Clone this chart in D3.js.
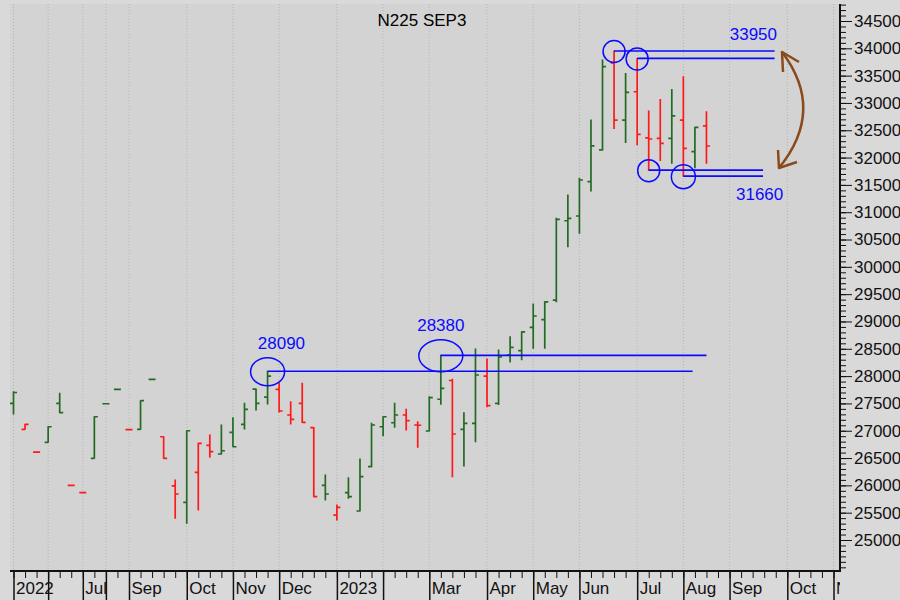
<!DOCTYPE html>
<html>
<head>
<meta charset="utf-8">
<script src="https://cdn.jsdelivr.net/npm/d3@7"></script>
<style>
  body { margin: 0; background: #d9d9d9; }
  svg { display: block; }
  text { font-family: "Liberation Sans", Arial, sans-serif; }
</style>
</head>
<body>
<svg id="chart" width="900" height="600"></svg>
<script>
// weekly bars, one per trading week (index = bar number)
var opens  = [27500, 27025, 26610, 26788, 27502, 26001, 25866, 26495, 27494, 27758,
              27019, 27026, 27941, 26890, 25990, 25690, 26239, 26733, 26574, 26971,
              27117, 27763, 27615, 27758, 27288, 27502, 27058, 26001, 25457, 25866,
              25531, 26342, 27073, 27146, 27288, 27105, 26995, 27576, 27920, 27026,
              27136, 28001, 27502, 28386, 28465, 28893, 29035, 29392, 30844, 30931,
              31560, 32140, 33735, 32686, 33205, 32360, 32351, 32351, 32686, 32108,
              32582];
var highs  = [27715, 27120, 26610, 27073, 27685, 26001, 25866, 27256, 27494, 27758,
              27019, 27550, 27941, 26890, 26098, 27000, 26770, 26922, 27105, 27238,
              27502, 27763, 28090, 27868, 27531, 27868, 27058, 26190, 25640, 26140,
              26482, 27135, 27256, 27502, 27392, 27165, 27622, 28380, 27941, 27330,
              28496, 28312, 28478, 28722, 28810, 29320, 29360, 30888, 31316, 31621,
              32686, 33784, 33950, 33540, 33815, 32851, 33065, 33248, 33478, 32553,
              32839];
var lows   = [27305, 27025, 26610, 26788, 27330, 26001, 25866, 26495, 27494, 27758,
              27019, 27026, 27941, 26495, 25397, 25305, 25549, 26513, 26574, 26707,
              27031, 27379, 27489, 27342, 27123, 27153, 25793, 25732, 25366, 25763,
              25531, 26342, 26908, 27062, 27013, 26696, 26995, 27483, 26159, 26354,
              26799, 27440, 27480, 28257, 28300, 28508, 28508, 29360, 30370, 30614,
              31387, 32140, 32534, 32275, 32235, 31770, 31946, 31897, 31660, 31813,
              31897];
var closes = [27700, 27115, 26610, 27073, 27330, 26001, 25866, 27256, 27494, 27758,
              27019, 27550, 27941, 26495, 25842, 27000, 26770, 26616, 26634, 26707,
              27392, 27502, 28001, 27361, 27209, 27153, 25793, 25842, 25598, 25793,
              26159, 27105, 27256, 27288, 27184, 27100, 27606, 27777, 26940, 27136,
              28020, 27458, 28350, 28527, 28810, 29100, 29358, 30869, 30888, 31590,
              32213, 33665, 32686, 33193, 32424, 32340, 32260, 32765, 32168, 32553,
              32212];

// month ticks on the bar axis
var monthTicks  = [0, 3, 6, 8, 10, 15, 19, 23, 28, 32, 36, 41, 45, 49, 54, 58, 62, 67, 71];
var monthLabels = ["2022", "", "Jul", "", "Sep", "Oct", "Nov", "Dec", "2023", "", "Mar",
                   "Apr", "May", "Jun", "Jul", "Aug", "Sep", "Oct", "Nov"];

// price ticks
var priceTicks = d3.range(25000, 34501, 500);
var priceMinor = d3.range(24500, 34801, 100);

// marked highs / lows: bar index, level, end of line (bar units), label
var marks = [
  { i: 22, level: 28090, end: 58.8, rx: 17, ry: 14, label: "28090", shift: 1.2 },
  { i: 37, level: 28380, end: 60,   rx: 22, ry: 16, label: "28380", shift: 0 },
  { i: 52, level: 33950, end: 65.9, rx: 11, ry: 11, label: "" },
  { i: 54, level: 33815, end: 65.9, rx: 11, ry: 11, label: "" },
  { i: 55, level: 31770, end: 64.9, rx: 11, ry: 11, label: "" },
  { i: 58, level: 31660, end: 64.9, rx: 12, ry: 12, label: "" }
];

var PLOT_LEFT = 10, PLOT_RIGHT = 840, PLOT_TOP = 4, PLOT_BOTTOM = 571;
var GREEN = "#236b23", RED = "#ff1a1a", BLUE = "#0a0aff", BROWN = "#8b4a1c";

var svg = d3.select("#chart");

var x = d3.scaleLinear().domain([0, 71]).range([13.5, 833.5]);
var y = d3.scaleLinear().domain([25000, 34500]).range([540, 21]);

svg.append("rect")
  .attr("x", PLOT_LEFT).attr("y", PLOT_TOP)
  .attr("width", PLOT_RIGHT - PLOT_LEFT).attr("height", PLOT_BOTTOM - PLOT_TOP)
  .attr("fill", "#d3d3d3");

svg.append("clipPath").attr("id", "plotclip")
  .append("rect")
  .attr("x", 0).attr("y", 0)
  .attr("width", PLOT_RIGHT).attr("height", 600);

// dotted month grid
svg.append("g").selectAll("line")
  .data(monthTicks)
  .enter().append("line")
    .attr("x1", function(d) { return x(d); })
    .attr("x2", function(d) { return x(d); })
    .attr("y1", PLOT_TOP).attr("y2", PLOT_BOTTOM)
    .attr("stroke", "#b5b5b5")
    .attr("stroke-dasharray", "1,2");

// title
svg.append("text")
  .attr("x", 422).attr("y", 26)
  .attr("text-anchor", "middle")
  .attr("font-size", 17)
  .attr("fill", "#000")
  .text("N225 SEP3");

// bars
var barData = opens.map(function(o, i) {
  var prev = i > 0 ? closes[i - 1] : -Infinity;
  return { i: i, o: o, h: highs[i], l: lows[i], c: closes[i], up: closes[i] >= prev };
});

svg.append("g").selectAll("path")
  .data(barData)
  .enter().append("path")
    .attr("d", function(d) {
      var bx = x(d.i);
      return "M" + bx + "," + (y(d.h) - 0.5) + "V" + (y(d.l) + 0.5) +
             "M" + (bx - 3.5) + "," + y(d.o) + "H" + bx +
             "M" + bx + "," + y(d.c) + "H" + (bx + 3.5);
    })
    .attr("fill", "none")
    .attr("stroke", function(d) { return d.up ? GREEN : RED; })
    .attr("stroke-width", 1.7);

// level lines and circles
var ann = svg.append("g");

ann.selectAll("line")
  .data(marks)
  .enter().append("line")
    .attr("x1", function(d) { return x(d.i); })
    .attr("x2", function(d) { return x(d.end); })
    .attr("y1", function(d) { return y(d.level); })
    .attr("y2", function(d) { return y(d.level); })
    .attr("stroke", BLUE)
    .attr("stroke-width", 1.6);

ann.selectAll("ellipse")
  .data(marks)
  .enter().append("ellipse")
    .attr("cx", function(d) { return x(d.i); })
    .attr("cy", function(d) { return y(d.level) + 0.5; })
    .attr("rx", function(d) { return d.rx; })
    .attr("ry", function(d) { return d.ry; })
    .attr("fill", "none")
    .attr("stroke", BLUE)
    .attr("stroke-width", 1.5);

ann.selectAll("text.lvl")
  .data(marks.filter(function(d) { return d.label; }))
  .enter().append("text")
    .attr("class", "lvl")
    .attr("x", function(d) { return x(d.i + d.shift); })
    .attr("y", function(d) { return y(d.level) - d.ry - 8; })
    .attr("text-anchor", "middle")
    .attr("font-size", 17)
    .attr("fill", BLUE)
    .text(function(d) { return d.label; });

// range labels at the right
ann.append("text")
  .attr("x", 777).attr("y", 40)
  .attr("text-anchor", "end")
  .attr("font-size", 17).attr("fill", BLUE)
  .text("33950");
ann.append("text")
  .attr("x", 736).attr("y", 200)
  .attr("font-size", 17).attr("fill", BLUE)
  .text("31660");

// double headed arrow
var topTip = [782, 52], botTip = [779, 168];
ann.append("path")
  .attr("d", "M" + topTip + "Q826,110 " + botTip)
  .attr("fill", "none").attr("stroke", BROWN).attr("stroke-width", 2.5);
ann.append("path")
  .attr("d", "M783,72L" + topTip + "L799,62")
  .attr("fill", "none").attr("stroke", BROWN).attr("stroke-width", 2.5)
  .attr("stroke-linejoin", "round");
ann.append("path")
  .attr("d", "M778,150L" + botTip + "L797,162")
  .attr("fill", "none").attr("stroke", BROWN).attr("stroke-width", 2.5)
  .attr("stroke-linejoin", "round");

// right price axis
var yMinor = svg.append("g")
  .attr("transform", "translate(" + PLOT_RIGHT + ",0)")
  .call(d3.axisRight(y).tickValues(priceMinor.filter(function(v) { return y(v) > PLOT_TOP && y(v) < PLOT_BOTTOM; }))
          .tickSize(6).tickFormat(""));
yMinor.select(".domain").remove();

var yAxis = svg.append("g")
  .attr("transform", "translate(" + PLOT_RIGHT + ",0)")
  .call(d3.axisRight(y).tickValues(priceTicks).tickSize(12).tickPadding(2).tickFormat(d3.format("d")));
yAxis.select(".domain").remove();
yAxis.selectAll("text").attr("font-size", 17).attr("fill", "#111")
  .style("font-family", '"Liberation Sans", Arial, sans-serif');
yAxis.selectAll("line").attr("stroke", "#111");
yMinor.selectAll("line").attr("stroke", "#111");

svg.append("line")
  .attr("x1", PLOT_RIGHT).attr("x2", PLOT_RIGHT)
  .attr("y1", PLOT_TOP).attr("y2", PLOT_BOTTOM + 1)
  .attr("stroke", "#111").attr("stroke-width", 2);

// bottom bar/month axis
var xMinor = svg.append("g")
  .attr("transform", "translate(0," + PLOT_BOTTOM + ")")
  .call(d3.axisBottom(x).tickValues(d3.range(0, 72)).tickSize(7).tickFormat(""));
xMinor.select(".domain").remove();
xMinor.selectAll("line").attr("stroke", "#111");

var xAxis = svg.append("g")
  .attr("transform", "translate(0," + PLOT_BOTTOM + ")")
  .attr("clip-path", "url(#plotclip)")
  .call(d3.axisBottom(x).tickValues(monthTicks).tickSize(29)
        .tickFormat(function(d, i) { return monthLabels[i]; }));
xAxis.select(".domain").remove();
xAxis.selectAll("line").attr("stroke", "#111").attr("stroke-width", 1.5);
xAxis.selectAll("text")
  .attr("text-anchor", "start")
  .attr("x", 2).attr("y", 11).attr("dy", "0.71em")
  .attr("font-size", 17).attr("fill", "#111")
  .style("font-family", '"Liberation Sans", Arial, sans-serif');

svg.append("line")
  .attr("x1", PLOT_LEFT).attr("x2", PLOT_RIGHT)
  .attr("y1", PLOT_BOTTOM).attr("y2", PLOT_BOTTOM)
  .attr("stroke", "#111").attr("stroke-width", 2);
</script>
</body>
</html>
